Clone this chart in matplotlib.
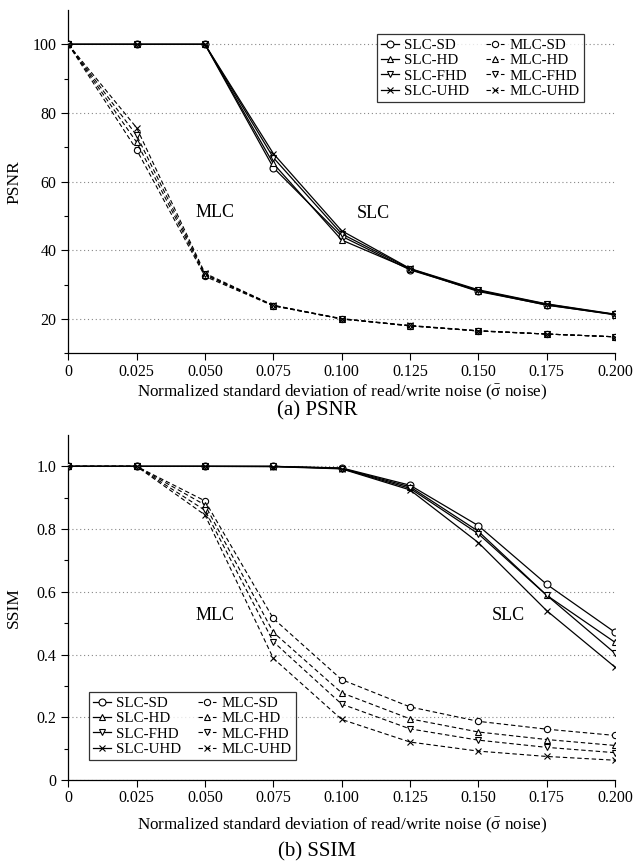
import matplotlib
matplotlib.use("Agg")
import matplotlib.pyplot as plt
import numpy as np
from matplotlib.ticker import FixedLocator

plt.rcParams['font.family'] = ['Liberation Serif', 'DejaVu Serif']
plt.rcParams['mathtext.fontset'] = 'custom'
plt.rcParams['mathtext.rm'] = 'Liberation Serif'
plt.rcParams['mathtext.it'] = 'Liberation Serif:italic'

# noise levels
x = [0, 0.025, 0.050, 0.075, 0.100, 0.125, 0.150, 0.175, 0.200]
xlabels = ['0', '0.025', '0.050', '0.075', '0.100', '0.125', '0.150', '0.175', '0.200']
names = ['SD', 'HD', 'FHD', 'UHD']

# PSNR
psnr_slc_sd = [100, 100, 100, 64.1, 44.1, 34.3, 28.2, 24.0, 21.3]
psnr_slc_hd = [100, 100, 100, 65.3, 43.0, 34.5, 28.0, 24.1, 21.2]
psnr_slc_fhd = [100, 100, 100, 67.0, 44.8, 34.6, 28.3, 24.3, 21.3]
psnr_slc_uhd = [100, 100, 100, 68.2, 45.7, 34.7, 28.5, 24.4, 21.4]
psnr_mlc_sd = [100, 69.3, 32.4, 23.8, 20.0, 18.0, 16.5, 15.6, 14.8]
psnr_mlc_hd = [100, 71.5, 32.8, 23.9, 20.0, 18.0, 16.5, 15.6, 14.8]
psnr_mlc_fhd = [100, 73.5, 33.0, 23.9, 20.0, 18.0, 16.5, 15.6, 14.8]
psnr_mlc_uhd = [100, 75.7, 33.3, 24.0, 20.1, 18.1, 16.6, 15.6, 14.8]

# SSIM
ssim_slc_sd = [1.0, 1.0, 1.0, 1.0, 0.995, 0.940, 0.811, 0.624, 0.471]
ssim_slc_hd = [1.0, 1.0, 1.0, 1.0, 0.994, 0.935, 0.793, 0.589, 0.439]
ssim_slc_fhd = [1.0, 1.0, 1.0, 1.0, 0.993, 0.930, 0.785, 0.589, 0.404]
ssim_slc_uhd = [1.0, 1.0, 1.0, 0.999, 0.992, 0.925, 0.757, 0.540, 0.360]
ssim_mlc_sd = [1.0, 1.0, 0.890, 0.515, 0.320, 0.233, 0.187, 0.162, 0.142]
ssim_mlc_hd = [1.0, 1.0, 0.877, 0.471, 0.278, 0.195, 0.153, 0.129, 0.110]
ssim_mlc_fhd = [1.0, 1.0, 0.860, 0.441, 0.242, 0.163, 0.127, 0.104, 0.087]
ssim_mlc_uhd = [1.0, 1.0, 0.845, 0.388, 0.193, 0.121, 0.092, 0.075, 0.063]

markers = ['o', '^', 'v', 'x']
xlab = r'Normalized standard deviation of read/write noise ($\bar{\mathrm{\sigma}}$ noise)'

fig = plt.figure(figsize=(6.34, 8.65), dpi=100)
ax1 = fig.add_axes([0.1077, 0.5916, 0.8623, 0.3968])
ax2 = fig.add_axes([0.1077, 0.0983, 0.8623, 0.3988])


def draw(ax, slc, mlc):
    for i in range(4):
        ax.plot(x, slc[i], '-', color='black', lw=0.9, marker=markers[i], ms=5,
                mfc='white', mec='black', mew=0.8, label='SLC-' + names[i], zorder=3)
    for i in range(4):
        ax.plot(x, mlc[i], '--', color='black', lw=0.8, dashes=(4, 2.5), marker=markers[i], ms=4.5,
                mfc='white', mec='black', mew=0.8, label='MLC-' + names[i], zorder=3)
    ax.set_xlim(0, 0.2)
    ax.xaxis.set_major_locator(FixedLocator(x))
    ax.set_xticklabels(xlabels)
    for s in ['top', 'right']:
        ax.spines[s].set_visible(False)
    ax.spines['left'].set_linewidth(0.9)
    ax.spines['bottom'].set_linewidth(0.9)
    ax.tick_params(which='major', direction='out', length=5, width=0.8, labelsize=11.5)
    ax.tick_params(which='minor', direction='out', length=3, width=0.8)
    ax.tick_params(axis='x', pad=2.5)
    ax.grid(axis='y', which='major', linestyle=(0, (1, 2.5)), color='#888888', lw=0.8)
    ax.set_axisbelow(True)
    ax.yaxis.set_label_coords(-0.084, 0.5)


def legend(ax, loc, anchor):
    leg = ax.legend(ncol=2, loc=loc, bbox_to_anchor=anchor, fontsize=10.8, numpoints=1,
                    frameon=True, fancybox=False, edgecolor='black', handlelength=1.2,
                    handletextpad=0.35, columnspacing=1.1, labelspacing=0.12, borderpad=0.3,
                    borderaxespad=0)
    leg.get_frame().set_linewidth(0.9)
    leg.set_zorder(5)


draw(ax1, [psnr_slc_sd, psnr_slc_hd, psnr_slc_fhd, psnr_slc_uhd],
     [psnr_mlc_sd, psnr_mlc_hd, psnr_mlc_fhd, psnr_mlc_uhd])
ax1.set_ylim(10, 110)
ax1.yaxis.set_major_locator(FixedLocator([20, 40, 60, 80, 100]))
ax1.yaxis.set_minor_locator(FixedLocator([10, 30, 50, 70, 90]))
ax1.set_ylabel('PSNR', fontsize=12.5)
ax1.text(0.0537, 51, 'MLC', fontsize=13, ha='center', va='center')
ax1.text(0.1116, 50.7, 'SLC', fontsize=13, ha='center', va='center')
legend(ax1, 'upper right', (0.943, 0.93))

draw(ax2, [ssim_slc_sd, ssim_slc_hd, ssim_slc_fhd, ssim_slc_uhd],
     [ssim_mlc_sd, ssim_mlc_hd, ssim_mlc_fhd, ssim_mlc_uhd])
ax2.set_ylim(0, 1.1)
ax2.yaxis.set_major_locator(FixedLocator([0, 0.2, 0.4, 0.6, 0.8, 1.0]))
ax2.set_yticklabels(['0', '0.2', '0.4', '0.6', '0.8', '1.0'])
ax2.yaxis.set_minor_locator(FixedLocator([0.1, 0.3, 0.5, 0.7, 0.9]))
ax2.set_ylabel('SSIM', fontsize=12.5)
ax2.text(0.0537, 0.524, 'MLC', fontsize=13, ha='center', va='center')
ax2.text(0.161, 0.524, 'SLC', fontsize=13, ha='center', va='center')
legend(ax2, 'lower left', (0.037, 0.057))

fig.text(0.54, 1 - 392 / 865, xlab, fontsize=12.3, ha='center', va='center')
fig.text(0.5, 1 - 411 / 865, '(a) PSNR', fontsize=15, ha='center', va='center')
fig.text(0.54, 1 - 825 / 865, xlab, fontsize=12.3, ha='center', va='center')
fig.text(0.5, 1 - 852 / 865, '(b) SSIM', fontsize=15, ha='center', va='center')

fig.savefig('out.png', dpi=100)
